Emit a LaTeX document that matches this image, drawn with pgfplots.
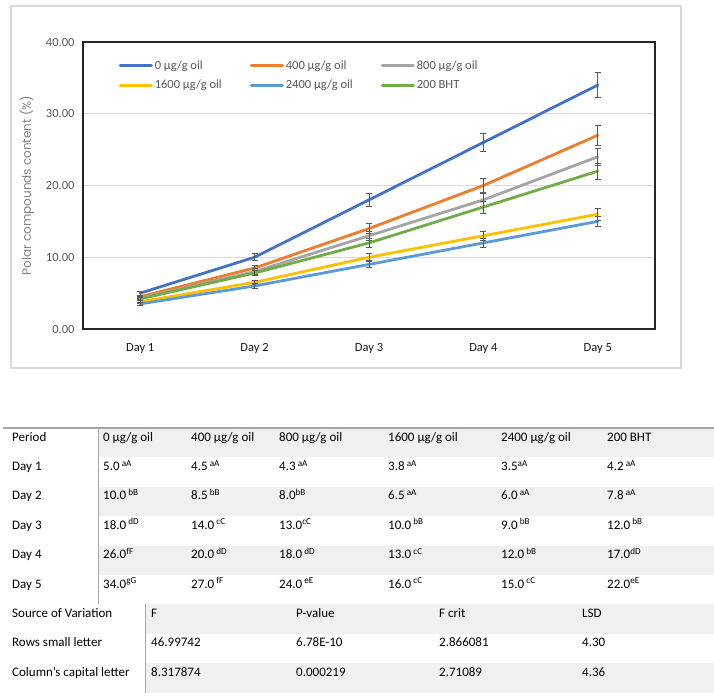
\documentclass[border=0pt]{standalone}
\usepackage{fontspec}
\setmainfont{Carlito}
\newfontfamily\poppins{Poppins}
\usepackage{pgfplots}
\pgfplotsset{compat=1.18}
\usepackage{pgfplotstable}

\definecolor{cBlue}{HTML}{4472C4}
\definecolor{cOrange}{HTML}{ED7D31}
\definecolor{cGray}{HTML}{A5A5A5}
\definecolor{cYellow}{HTML}{FFC000}
\definecolor{cLight}{HTML}{5B9BD5}
\definecolor{cGreen}{HTML}{70AD47}
\definecolor{gridGray}{HTML}{D9D9D9}
\definecolor{frameGray}{HTML}{D9D9D9}
\definecolor{axisDark}{HTML}{262626}
\definecolor{tickGray}{HTML}{595959}
\definecolor{labelGray}{HTML}{808080}
\definecolor{dayText}{HTML}{1A1A1A}
\definecolor{errGray}{HTML}{595959}
\definecolor{bandGray}{HTML}{F0F0F0}
\definecolor{ruleGray}{HTML}{A6A6A6}

% polar compounds (%) per day, with error values
\pgfplotstableread{
day c0   e0    c400 e400  c800 e800  c1600 e1600 c2400 e2400 bht  ebht
1   5.0  0.25  4.5  0.225 4.3  0.215 3.8   0.19  3.5   0.175 4.2  0.21
2   10.0 0.5   8.5  0.425 8.0  0.4   6.5   0.325 6.0   0.3   7.8  0.39
3   18.0 0.9   14.0 0.7   13.0 0.65  10.0  0.5   9.0   0.45  12.0 0.6
4   26.0 1.3   20.0 1.0   18.0 0.9   13.0  0.65  12.0  0.6   17.0 0.85
5   34.0 1.7   27.0 1.35  24.0 1.2   16.0  0.8   15.0  0.75  22.0 1.1
}\polar

\pgfplotsset{
  series/.style={line width=2.8pt, line join=round, line cap=round, mark=none,
    error bars/y dir=both, error bars/y explicit,
    error bars/error bar style={color=errGray, line width=0.8pt, line cap=butt},
    error bars/error mark options={rotate=90, mark size=3pt, color=errGray, line width=0.8pt}},
}

\newcommand\cell[3]{\node[anchor=base west, inner sep=0pt] at (#1,#2) {#3};}
\newcommand\su[1]{\textsuperscript{#1}}

\begin{document}
\begin{tikzpicture}
\useasboundingbox (0,0) rectangle (714pt,-696pt);
\fill[white] (0,0) rectangle (714pt,-696pt);

% chart area frame
\draw[frameGray, line width=1.2pt] (11pt,-6pt) rectangle (681pt,-368pt);

\begin{axis}[
  at={(83pt,-329pt)}, anchor=south west,
  width=572pt, height=287pt, scale only axis,
  xmin=0.5, xmax=5.5, ymin=0, ymax=40,
  xtick={1,2,3,4,5},
  xticklabels={Day 1,Day 2,Day 3,Day 4,Day 5},
  ytick={0,10,20,30,40},
  ymajorgrids,
  major grid style={color=gridGray, line width=0.9pt},
  axis line style={color=axisDark, line width=1.4pt},
  major tick length=0pt,
  tick label style={font=\fontsize{12.5}{15}\selectfont},
  xticklabel style={color=dayText, yshift=-11pt},
  yticklabel style={color=tickGray, xshift=-5pt,
    /pgf/number format/fixed, /pgf/number format/fixed zerofill,
    /pgf/number format/precision=2, /pgf/number format/assume math mode=true},
  ylabel={Polar compounds content (\%)},
  ylabel style={at={(axis description cs:-0.098,0.5)}, anchor=center,
    font=\poppins\fontsize{12}{14}\selectfont, color=labelGray},
  legend columns=3,
  legend cell align=left,
  legend style={at={(axis description cs:0.057,0.949)}, anchor=north west,
    draw=none, fill=none, font=\fontsize{12.5}{15}\selectfont, text=tickGray,
    row sep=5pt,
    /tikz/every even column/.append style={column sep=26pt}},
  legend image code/.code={\draw[#1, line width=3pt] (0pt,0pt) -- (31pt,0pt);},
]
\addplot[cBlue, series]   table[x=day, y=c0,    y error=e0]    {\polar};
\addlegendentry{0 µg/g oil}
\addplot[cOrange, series] table[x=day, y=c400,  y error=e400]  {\polar};
\addlegendentry{400 µg/g oil}
\addplot[cGray, series]   table[x=day, y=c800,  y error=e800]  {\polar};
\addlegendentry{800 µg/g oil}
\addplot[cYellow, series] table[x=day, y=c1600, y error=e1600] {\polar};
\addlegendentry{1600 µg/g oil}
\addplot[cLight, series]  table[x=day, y=c2400, y error=e2400] {\polar};
\addlegendentry{2400 µg/g oil}
\addplot[cGreen, series]  table[x=day, y=bht,   y error=ebht]  {\polar};
\addlegendentry{200 BHT}
\end{axis}

% results table
\begin{scope}[x=1pt, y=-1pt, font=\fontsize{13}{15}\selectfont]
  \fill[bandGray] (98,428) rectangle (714,457.4);
  \fill[bandGray] (98,486.8) rectangle (714,516.2);
  \fill[bandGray] (98,545.6) rectangle (714,575);
  \fill[bandGray] (145,604.4) rectangle (714,633.8);
  \fill[bandGray] (145,663.2) rectangle (714,692.6);
  \draw[ruleGray, line width=1.5pt] (3,428) -- (714,428);
  \draw[ruleGray, line width=1pt] (98,428) -- (98,604.4);
  \draw[ruleGray, line width=1pt] (145,604.4) -- (145,692.6);

  \cell{12}{441}{Period}
  \cell{103}{441}{0 µg/g oil}
  \cell{191}{441}{400 µg/g oil}
  \cell{279}{441}{800 µg/g oil}
  \cell{388}{441}{1600 µg/g oil}
  \cell{501}{441}{2400 µg/g oil}
  \cell{607}{441}{200 BHT}

  \cell{12}{470.4}{Day 1}
  \cell{103}{470.4}{5.0\,\su{aA}}
  \cell{191}{470.4}{4.5\,\su{aA}}
  \cell{279}{470.4}{4.3\,\su{aA}}
  \cell{388}{470.4}{3.8\,\su{aA}}
  \cell{501}{470.4}{3.5\su{aA}}
  \cell{607}{470.4}{4.2\,\su{aA}}

  \cell{12}{499.8}{Day 2}
  \cell{103}{499.8}{10.0\,\su{bB}}
  \cell{191}{499.8}{8.5\,\su{bB}}
  \cell{279}{499.8}{8.0\su{bB}}
  \cell{388}{499.8}{6.5\,\su{aA}}
  \cell{501}{499.8}{6.0\,\su{aA}}
  \cell{607}{499.8}{7.8\,\su{aA}}

  \cell{12}{529.2}{Day 3}
  \cell{103}{529.2}{18.0\,\su{dD}}
  \cell{191}{529.2}{14.0\,\su{cC}}
  \cell{279}{529.2}{13.0\su{cC}}
  \cell{388}{529.2}{10.0\,\su{bB}}
  \cell{501}{529.2}{9.0\,\su{bB}}
  \cell{607}{529.2}{12.0\,\su{bB}}

  \cell{12}{558.6}{Day 4}
  \cell{103}{558.6}{26.0\su{fF}}
  \cell{191}{558.6}{20.0\,\su{dD}}
  \cell{279}{558.6}{18.0\,\su{dD}}
  \cell{388}{558.6}{13.0\,\su{cC}}
  \cell{501}{558.6}{12.0\,\su{bB}}
  \cell{607}{558.6}{17.0\su{dD}}

  \cell{12}{588}{Day 5}
  \cell{103}{588}{34.0\su{gG}}
  \cell{191}{588}{27.0\,\su{fF}}
  \cell{279}{588}{24.0\,\su{eE}}
  \cell{388}{588}{16.0\,\su{cC}}
  \cell{501}{588}{15.0\,\su{cC}}
  \cell{607}{588}{22.0\su{eE}}

  \cell{12}{617.4}{Source of Variation}
  \cell{151}{617.4}{F}
  \cell{296}{617.4}{P-value}
  \cell{439}{617.4}{F crit}
  \cell{582}{617.4}{LSD}

  \cell{12}{646.8}{Rows small letter}
  \cell{151}{646.8}{46.99742}
  \cell{296}{646.8}{6.78E-10}
  \cell{439}{646.8}{2.866081}
  \cell{582}{646.8}{4.30}

  \cell{12}{676.2}{Column’s capital letter}
  \cell{151}{676.2}{8.317874}
  \cell{296}{676.2}{0.000219}
  \cell{439}{676.2}{2.71089}
  \cell{582}{676.2}{4.36}
\end{scope}
\end{tikzpicture}
\end{document}
